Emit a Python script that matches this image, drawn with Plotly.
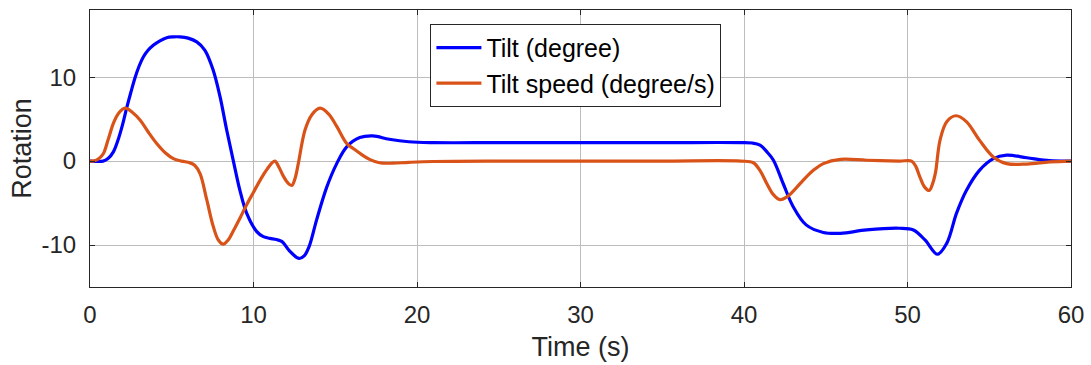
import plotly.graph_objects as go

# Tilt (degree)
tilt_t = [0, 0.8, 1.1, 1.43, 1.73, 2.0, 2.24, 2.5, 2.75, 3.0, 3.26, 3.55, 3.87, 4.25, 4.69, 5.1,
          5.5, 6.0, 6.53, 7.03, 7.54, 7.95, 8.36, 8.77, 9.17, 9.58, 10.2, 10.6, 11.0, 11.4, 11.75,
          12.2, 12.78, 13.1, 13.4, 13.86, 14.48, 15.09, 15.7, 16.5, 17.3, 18.3, 19.5, 21, 25,
          30, 35, 39.8, 40.5, 40.98, 41.4, 41.8, 42.4, 43.0, 43.8, 44.85, 45.9, 47.5, 49.5,
          50.36, 51.07, 51.83, 52.4, 53.0, 53.6, 54.4, 55.25, 56.07, 57.3, 58.7, 60]
tilt_v = [0, 0.0, 0.3, 1.1, 2.6, 4.4, 6.3, 8.2, 9.9, 11.3, 12.4, 13.2, 13.8, 14.3, 14.7, 14.8,
          14.8, 14.65, 14.2, 13.2, 10.8, 7.7, 3.7, 0.0, -3.5, -6.2, -8.4, -9.0, -9.2, -9.35,
          -9.6, -10.7, -11.6, -11.3, -10.2, -7.0, -3.1, -0.3, 1.7, 2.8, 3.0, 2.6, 2.3, 2.2,
          2.2, 2.2, 2.2, 2.2, 2.15, 1.9, 1.1, 0.1, -2.7, -5.4, -7.6, -8.5, -8.6, -8.2, -8.0,
          -8.2, -9.4, -11.1, -9.8, -6.2, -3.5, -1.1, 0.3, 0.7, 0.4, 0.05, 0]

# Tilt speed (degree/s)
speed_t = [0, 0.2, 0.55, 0.82, 1.1, 1.43, 1.75, 2.14, 2.6, 3.06, 3.55, 4.08, 4.6, 5.1, 5.6, 6.1,
           6.4, 6.73, 7.14, 7.54, 7.85, 8.15, 8.45, 8.77, 9.17, 9.58, 10.0, 10.4, 10.85, 11.3,
           11.55, 11.8, 12.1, 12.34, 12.55, 12.74, 13.15, 13.56, 14.07, 14.6, 15.1, 15.7, 16.1,
           16.6, 17.1, 17.7, 18.5, 19.5, 21, 25, 30, 35, 39.8, 40.57, 41.0, 41.4, 41.8, 42.2,
           42.6, 43.0, 43.8, 44.3, 44.85, 45.9, 47.5, 49.5, 50.25, 50.5, 50.76, 51.05, 51.33,
           51.5, 51.7, 51.99, 52.4, 52.97, 53.6, 54.4, 55.25, 56.07, 57.3, 58.7, 60]
speed_v = [0, 0.0, 0.3, 0.9, 2.5, 4.5, 5.7, 6.3, 5.8, 4.9, 3.5, 2.1, 1.0, 0.3, 0.0, -0.2, -0.5,
           -1.5, -4.6, -7.8, -9.4, -9.9, -9.4, -8.3, -6.8, -5.2, -3.7, -2.3, -0.9, 0.0, -0.7,
           -1.7, -2.6, -2.9, -2.0, -0.3, 3.7, 5.5, 6.3, 5.6, 4.1, 2.1, 1.5, 0.8, 0.2, -0.2,
           -0.25, -0.15, -0.05, 0, 0, 0, 0, -0.2, -1.2, -2.7, -4.0, -4.6, -4.3, -3.6, -1.9,
           -1.0, -0.3, 0.2, 0.1, 0.0, 0.0, -0.6, -1.9, -3.1, -3.5, -2.9, -1.5, 2.5, 4.7, 5.4,
           4.7, 2.5, 0.5, -0.3, -0.35, -0.1, 0]

x_ticks = [0, 10, 20, 30, 40, 50, 60]
y_ticks = [-10, 0, 10]
y_tick_labels = ["-10", "0", "10"]

FONT = "Liberation Sans, Arial, sans-serif"
AX = "#262626"

fig = go.Figure()
fig.add_trace(go.Scatter(x=tilt_t, y=tilt_v, mode="lines", name="Tilt (degree)",
                         line=dict(color="#0000FF", width=3.2, shape="spline", smoothing=1)))
fig.add_trace(go.Scatter(x=speed_t, y=speed_v, mode="lines", name="Tilt speed (degree/s)",
                         line=dict(color="#D95319", width=3.2, shape="spline", smoothing=1)))

axis_common = dict(showline=True, linecolor=AX, linewidth=1, mirror="ticks",
                   ticks="inside", ticklen=5, tickcolor=AX, automargin=False,
                   showgrid=True, gridcolor="#bdbdbd", gridwidth=1, zeroline=False,
                   tickfont=dict(family=FONT, size=24, color=AX))

fig.update_xaxes(range=[0, 60], tickvals=x_ticks, ticklabelstandoff=6,
                 title=dict(text="Time (s)", font=dict(family=FONT, size=27, color=AX), standoff=10),
                 **axis_common)
fig.update_yaxes(range=[-15, 18], tickvals=y_ticks, ticktext=y_tick_labels, ticklabelstandoff=8,
                 title=dict(text="Rotation", font=dict(family=FONT, size=27, color=AX), standoff=2),
                 **axis_common)

fig.update_layout(
    width=1091, height=365,
    margin=dict(l=90, r=20, t=10, b=78),
    plot_bgcolor="white", paper_bgcolor="white",
    legend=dict(x=0.347, y=0.95, xanchor="left", yanchor="top",
                bgcolor="white", bordercolor=AX, borderwidth=1,
                font=dict(family=FONT, size=25, color="black"),
                tracegroupgap=0, itemwidth=45),
    showlegend=True,
)

fig.write_html("out.html", config={"displayModeBar": False},
               post_script="document.body.style.margin='0';document.body.style.overflow='hidden';")
